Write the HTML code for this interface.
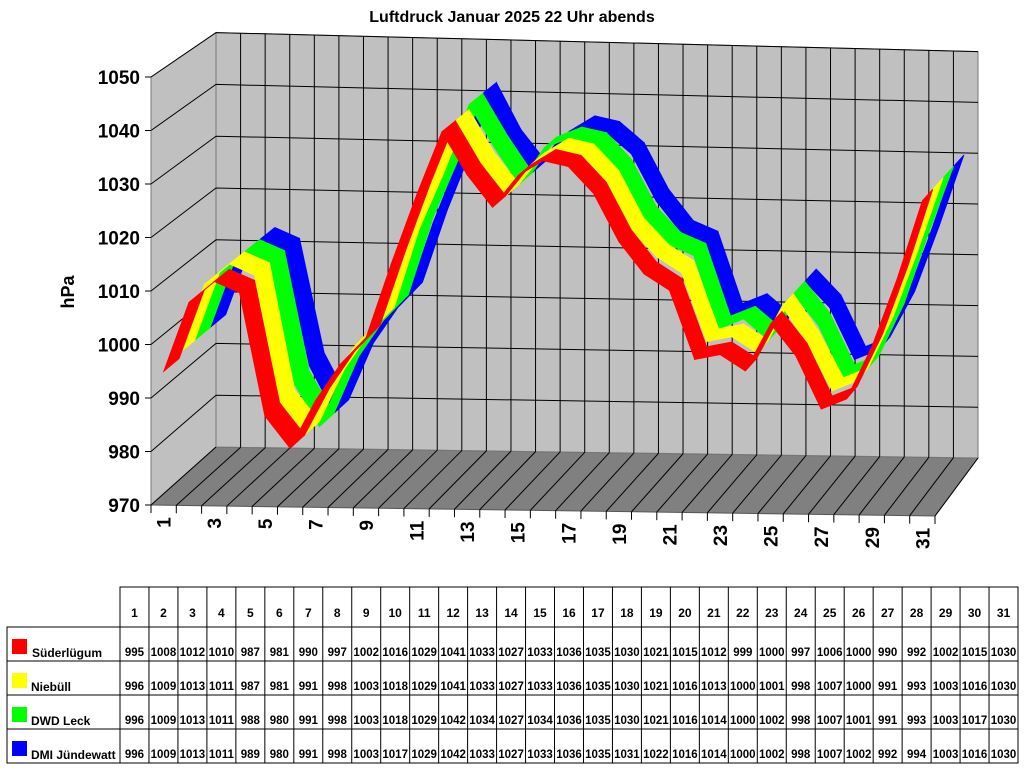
<!DOCTYPE html>
<html><head><meta charset="utf-8"><style>
body{margin:0;background:#fff;width:1024px;height:768px;overflow:hidden;font-family:"Liberation Sans",sans-serif}
</style></head><body>
<svg id="chart" width="1024" height="768" viewBox="0 0 1024 768" xmlns="http://www.w3.org/2000/svg" font-family="Liberation Sans, sans-serif">
<text x="512" y="22" text-anchor="middle" font-size="16" font-weight="bold">Luftdruck Januar 2025 22 Uhr abends</text>
<text transform="translate(74,292) rotate(-90)" text-anchor="middle" font-size="18" font-weight="bold">hPa</text>
<g id="walls"></g><g id="series"></g><g id="axes"></g><g id="table"></g>
</svg>
<script>
const days=[1,2,3,4,5,6,7,8,9,10,11,12,13,14,15,16,17,18,19,20,21,22,23,24,25,26,27,28,29,30,31];
const seriesNames=["Süderlügum","Niebüll","DWD Leck","DMI Jündewatt"];
const seriesColors=["#ff0000","#ffff00","#00ff00","#0000ff"];
const sSuder=[995,1008,1012,1010,987,981,990,997,1002,1016,1029,1041,1033,1027,1033,1036,1035,1030,1021,1015,1012,999,1000,997,1006,1000,990,992,1002,1015,1030];
const sNiebuell=[996,1009,1013,1011,987,981,991,998,1003,1018,1029,1041,1033,1027,1033,1036,1035,1030,1021,1016,1013,1000,1001,998,1007,1000,991,993,1003,1016,1030];
const sLeck=[996,1009,1013,1011,988,980,991,998,1003,1018,1029,1042,1034,1027,1034,1036,1035,1030,1021,1016,1014,1000,1002,998,1007,1001,991,993,1003,1017,1030];
const sJuende=[996,1009,1013,1011,989,980,991,998,1003,1017,1029,1042,1033,1027,1033,1036,1035,1031,1022,1016,1014,1000,1002,998,1007,1002,992,994,1003,1016,1030];
const yTicks=[970,980,990,1000,1010,1020,1030,1040,1050];
const allSeries=[sSuder,sNiebuell,sLeck,sJuende];
const NS="http://www.w3.org/2000/svg";
const YMIN=970,N=days.length;
function proj(u,v,t){
  const fx=151+u*784, bx=216+u*762;
  const fy=505+u*11, by=447+u*11;
  const fs=5.35-0.1*u, bs=5.18-0.1*u;
  const x=fx+(bx-fx)*t, yb=fy+(by-fy)*t, s=fs+(bs-fs)*t;
  return [x, yb-(v-YMIN)*s];
}
function mk(tag,attrs,parent){const e=document.createElementNS(NS,tag);for(const k in attrs)e.setAttribute(k,attrs[k]);parent.appendChild(e);return e;}
const walls=document.getElementById('walls'),axes=document.getElementById('axes'),ser=document.getElementById('series');
const pt=a=>a.map(p=>p.join(',')).join(' ');
let fl=mk('polygon',{points:pt([proj(0,970,0),proj(1,970,0),proj(1,970,1),proj(0,970,1)]),fill:'#808080',stroke:'#555'},walls);


let lw=mk('polygon',{points:pt([proj(0,970,0),proj(0,970,1),proj(0,1050,1),proj(0,1050,0)]),fill:'#c0c0c0',stroke:'#777'},walls);


let bw=mk('polygon',{points:pt([proj(0,970,1),proj(1,970,1),proj(1,1050,1),proj(0,1050,1)]),fill:'#c0c0c0',stroke:'#777'},walls);


for(let j=0;j<=N;j++){const u=j/N;
  const a=proj(u,970,0),b=proj(u,970,1),c=proj(u,1050,1);
  let l=mk('line',{x1:a[0],y1:a[1],x2:b[0],y2:b[1],stroke:'#000','stroke-width':1},walls);
  
  
  if(j>0&&j<N){let v=mk('line',{x1:b[0],y1:b[1],x2:c[0],y2:c[1],stroke:'#000','stroke-width':1},walls);
  
  }
  let tk=mk('line',{x1:a[0],y1:a[1],x2:a[0],y2:a[1]+8,stroke:'#000'},axes);
  
  
}
yTicks.forEach(v=>{
  const a=proj(0,v,0),b=proj(0,v,1),c=proj(1,v,1);
  if(v>970){let l=mk('polyline',{points:pt([a,b,c]),fill:'none',stroke:'#000','stroke-width':1},walls);
  
  }
  let tk=mk('line',{x1:a[0]-6,y1:a[1],x2:a[0],y2:a[1],stroke:'#000'},axes);
  
  
  let t=mk('text',{x:a[0]-11,y:a[1]+7,'text-anchor':'end','font-size':19,'font-weight':'bold'},axes);
  t.textContent=v;
  
  
});
days.forEach((d,i)=>{ if(i%2)return;
  const a=proj((i+0.5)/N,970,0);
  let t=mk('text',{transform:`translate(${a[0]+7},${a[1]+12}) rotate(-90)`,'text-anchor':'end','font-size':19,'font-weight':'bold'},axes);
  t.textContent=d;
  
  
});
const TD=0.24;
for(let s=allSeries.length-1;s>=0;s--){
  const vals=allSeries[s],t0=s*TD,t1=(s+1)*TD;
  const g=mk('g',{},ser);
  
  
  for(let i=0;i<N-1;i++){
    const u0=(i+0.5)/N,u1=(i+1.5)/N;
    const p=[proj(u0,vals[i],t0),proj(u1,vals[i+1],t0),proj(u1,vals[i+1],t1),proj(u0,vals[i],t1)];
    let q=mk('polygon',{points:pt(p),fill:seriesColors[s],stroke:seriesColors[s],'stroke-width':0.8},g);
    
    
  }
}
const tb=document.getElementById('table');
const X0=120,CW=(1018-120)/31,RY=[587,627,661,695,729,763];
mk('rect',{x:X0,y:587,width:1018-X0,height:176,fill:'none',stroke:'#000'},tb);
mk('rect',{x:7,y:627,width:1011,height:136,fill:'none',stroke:'#000'},tb);
for(let r=1;r<5;r++)mk('line',{x1:7,y1:RY[r],x2:1018,y2:RY[r],stroke:'#000'},tb);
for(let j=0;j<=31;j++)mk('line',{x1:X0+j*CW,y1:587,x2:X0+j*CW,y2:763,stroke:'#000'},tb);
days.forEach((d,j)=>{let t=mk('text',{x:X0+(j+0.5)*CW,y:617,'text-anchor':'middle','font-size':12,'font-weight':'bold'},tb);t.textContent=d;
  
  });
allSeries.forEach((vals,s)=>{
  const y=RY[s+1];
  let sw=mk('rect',{x:12,y:y+12,width:15,height:15,fill:seriesColors[s]},tb);
  
  
  let n=mk('text',{x:s==0?32:31,y:y+30,'font-size':12,'font-weight':'bold'},tb);n.textContent=seriesNames[s];
  
  
  vals.forEach((v,j)=>{let t=mk('text',{x:X0+(j+0.5)*CW,y:y+29,'text-anchor':'middle','font-size':11.5,'font-weight':'bold'},tb);t.textContent=v;
    
    });
});
</script>
</body></html>
